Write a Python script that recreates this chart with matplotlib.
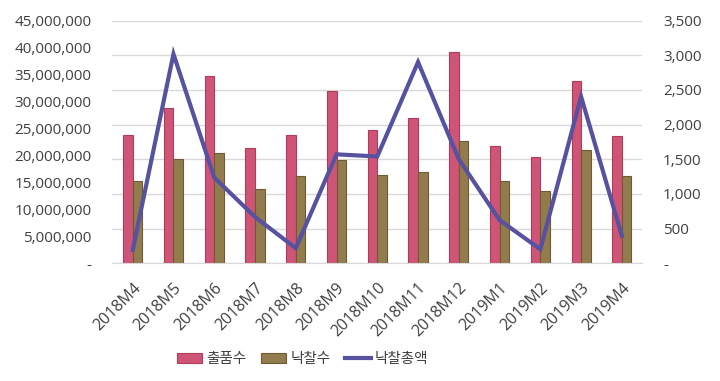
import matplotlib
matplotlib.use("Agg")
import matplotlib.pyplot as plt
import numpy as np
from matplotlib.ticker import FuncFormatter, MultipleLocator

plt.rcParams['font.family'] = ['Open Sans', 'Noto Sans CJK KR', 'DejaVu Sans']

categories = ["2018M4", "2018M5", "2018M6", "2018M7", "2018M8", "2018M9", "2018M10",
              "2018M11", "2018M12", "2019M1", "2019M2", "2019M3", "2019M4"]
listed = [1847, 2241, 2702, 1668, 1847, 2490, 1919, 2096, 3044, 1692, 1529, 2626, 1832]   # 출품수
won = [1192, 1505, 1596, 1072, 1260, 1495, 1278, 1317, 1760, 1192, 1039, 1630, 1260]       # 낙찰수
total = [2.45e6, 38.8e6, 15.9e6, 8.6e6, 2.8e6, 20.2e6, 19.8e6, 37.3e6, 19.3e6, 8.0e6,
         2.6e6, 30.9e6, 5.1e6]                                                              # 낙찰총액

fig = plt.figure(figsize=(7.2, 3.81), dpi=100)
ax = fig.add_axes([0.156, 0.309, 0.736, 0.637])
ax2 = ax.twinx()
ax.set_zorder(2)
ax.patch.set_visible(False)
ax2.set_zorder(1)

x = np.arange(len(categories))
w = 0.235
ax2.bar(x - w / 2, listed, w, color="#cf5577", edgecolor="#b33a5c", linewidth=0.8, label="출품수")
ax2.bar(x + w / 2, won, w, color="#927b4c", edgecolor="#6e5a33", linewidth=0.8, label="낙찰수")
ax.plot(x, total, color="#5652a0", linewidth=3, solid_joinstyle="miter", label="낙찰총액")

ax.set_xlim(-0.5, len(categories) - 0.5)
ax.set_ylim(0, 45e6)
ax2.set_ylim(0, 3500)
ax.yaxis.set_major_locator(MultipleLocator(5e6))
ax2.yaxis.set_major_locator(MultipleLocator(500))

def fmt(v, pos):
    return "-" if v == 0 else f"{int(round(v)):,}"

ax.yaxis.set_major_formatter(FuncFormatter(fmt))
ax2.yaxis.set_major_formatter(FuncFormatter(fmt))

ax2.set_axisbelow(True)
ax2.grid(axis="y", color="#d9d9d9", linewidth=1)

for a in (ax, ax2):
    for s in a.spines.values():
        s.set_visible(False)
    a.tick_params(length=0, labelsize=11, colors="#404040")
ax2.spines["bottom"].set_visible(True)
ax2.spines["bottom"].set_color("#d9d9d9")
ax.tick_params(axis="y", pad=15)
ax2.tick_params(axis="y", pad=15)

ax.set_xticks(x)
ax.set_xticklabels(categories, rotation=45, ha="right", rotation_mode="anchor", fontsize=11.5)
ax.tick_params(axis="x", pad=12)

h1, l1 = ax2.get_legend_handles_labels()
h2, l2 = ax.get_legend_handles_labels()
fig.legend(h1 + h2, l1 + l2, loc="center", bbox_to_anchor=(0.42, 0.057), ncol=3, frameon=False,
           fontsize=10.5, handlelength=1.75, handletextpad=0.28, columnspacing=1.0,
           labelcolor="#404040")

fig.savefig("out.png", dpi=100)
